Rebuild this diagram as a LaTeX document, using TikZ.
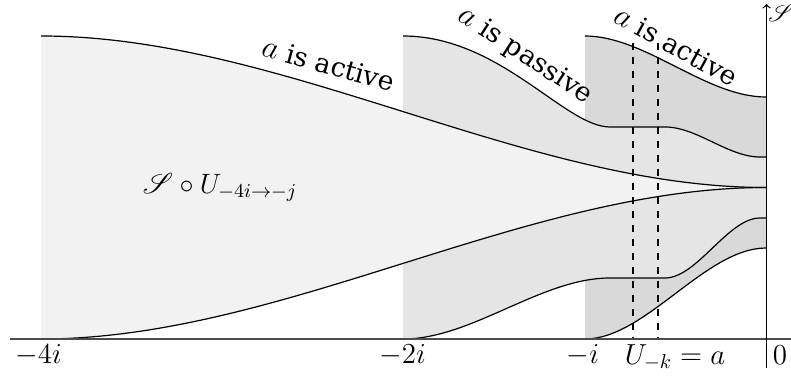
\RequirePackage{fix-cm}
\documentclass[tikz,border=0pt]{standalone}
\usepackage[no-math]{fontspec}
\usepackage{mathrsfs}
\newfontfamily\labfont{DejaVu Serif}
\newcommand{\bigA}{{\fontsize{16}{18}\selectfont$a$}}
\tikzset{
  curve/.style={draw=black, line width=0.6pt},
  bandA/.style={fill=black!5},
  bandB/.style={fill=black!10},
  bandC/.style={fill=black!15},
  guide/.style={draw=black, line width=0.6pt, dash pattern=on 3.5pt off 3.5pt},
  tick/.style={anchor=base, inner sep=0pt, font=\fontsize{14.5}{17}\selectfont},
  remark/.style={inner sep=0pt, font=\labfont\fontsize{13.3}{16}\selectfont},
}
\begin{document}
\begin{tikzpicture}[x=0.5pt, y=0.5pt]
\useasboundingbox (0,0) rectangle (791,-379);
% fills (darkest first)
\fill[bandC] (585,-36) .. controls (645.3,-36) and (705.7,-97) .. (766,-97) -- (766,-248) .. controls (705.7,-248) and (645.3,-339) .. (585,-339) -- cycle;
\fill[bandB] (403,-36) .. controls (500,-36) and (565,-127) .. (610,-127) -- (665,-127) .. controls (697,-127) and (728,-157) .. (760,-157) -- (766,-157) -- (766,-218) -- (760,-218) .. controls (728,-218) and (697,-278) .. (665,-278) -- (610,-278) .. controls (541,-278) and (472,-339) .. (403,-339) -- cycle;
\fill[bandA] (41,-36) .. controls (282.7,-36) and (524.3,-187.5) .. (766,-187.5) .. controls (524.3,-187.5) and (282.7,-339) .. (41,-339) -- cycle;
% curves
\draw[curve] (41,-36) .. controls (282.7,-36) and (524.3,-187.5) .. (766,-187.5);
\draw[curve] (41,-339) .. controls (282.7,-339) and (524.3,-187.5) .. (766,-187.5);
\draw[curve] (403,-36) .. controls (500,-36) and (565,-127) .. (610,-127) -- (665,-127) .. controls (697,-127) and (728,-157) .. (760,-157) -- (766,-157);
\draw[curve] (403,-339) .. controls (472,-339) and (541,-278) .. (610,-278) -- (665,-278) .. controls (697,-278) and (728,-218) .. (760,-218) -- (766,-218);
\draw[curve] (585,-36) .. controls (645.3,-36) and (705.7,-97) .. (766,-97);
\draw[curve] (585,-339) .. controls (645.3,-339) and (705.7,-248) .. (766,-248);
% dashed guides
\coordinate (g1t) at (633,-43); \coordinate (g1b) at (633,-339);
\coordinate (g2t) at (658,-43); \coordinate (g2b) at (658,-339);
\draw[guide] (g1t) -- (g1b);
\draw[guide] (g2t) -- (g2b);
% axes
\coordinate (hx0) at (10,-339); \coordinate (hx1) at (791,-339);
\coordinate (vy0) at (766.5,-368); \coordinate (vy1) at (766.5,-4);
\draw[black!70, line width=0.7pt] (hx0) -- (hx1);
\draw[line width=0.6pt, ->] (vy0) -- (vy1);
% tick labels
\node[tick] (t4) at (38.5,-363) {$-4i$};
\node[tick] (t2) at (402.5,-363) {$-2i$};
\node[tick] (t1) at (583,-363) {$-i$};
\node[tick] (tk) at (675,-364) {$U_{-k}=a$};
\node[tick] (t0) at (780,-364) {$0$};
% other labels
\node[anchor=base, inner sep=0pt, font=\fontsize{14}{16}\selectfont] (leg) at (220,-193) {$\mathscr{S}\circ U_{-4i\to-j}$};
\node[anchor=base west, inner sep=0pt, font=\fontsize{12}{14}\selectfont] (ax) at (768,-22) {$\mathscr{S}$};
\node[remark, rotate=-15.3] (r1) at (328.5,-64.5) {\bigA{} is active};
\node[remark, rotate=-33] (r2) at (525,-56) {\bigA{} is passive};
\node[remark, rotate=-29] (r3) at (676,-46) {\bigA{} is active};
\end{tikzpicture}
\end{document}
